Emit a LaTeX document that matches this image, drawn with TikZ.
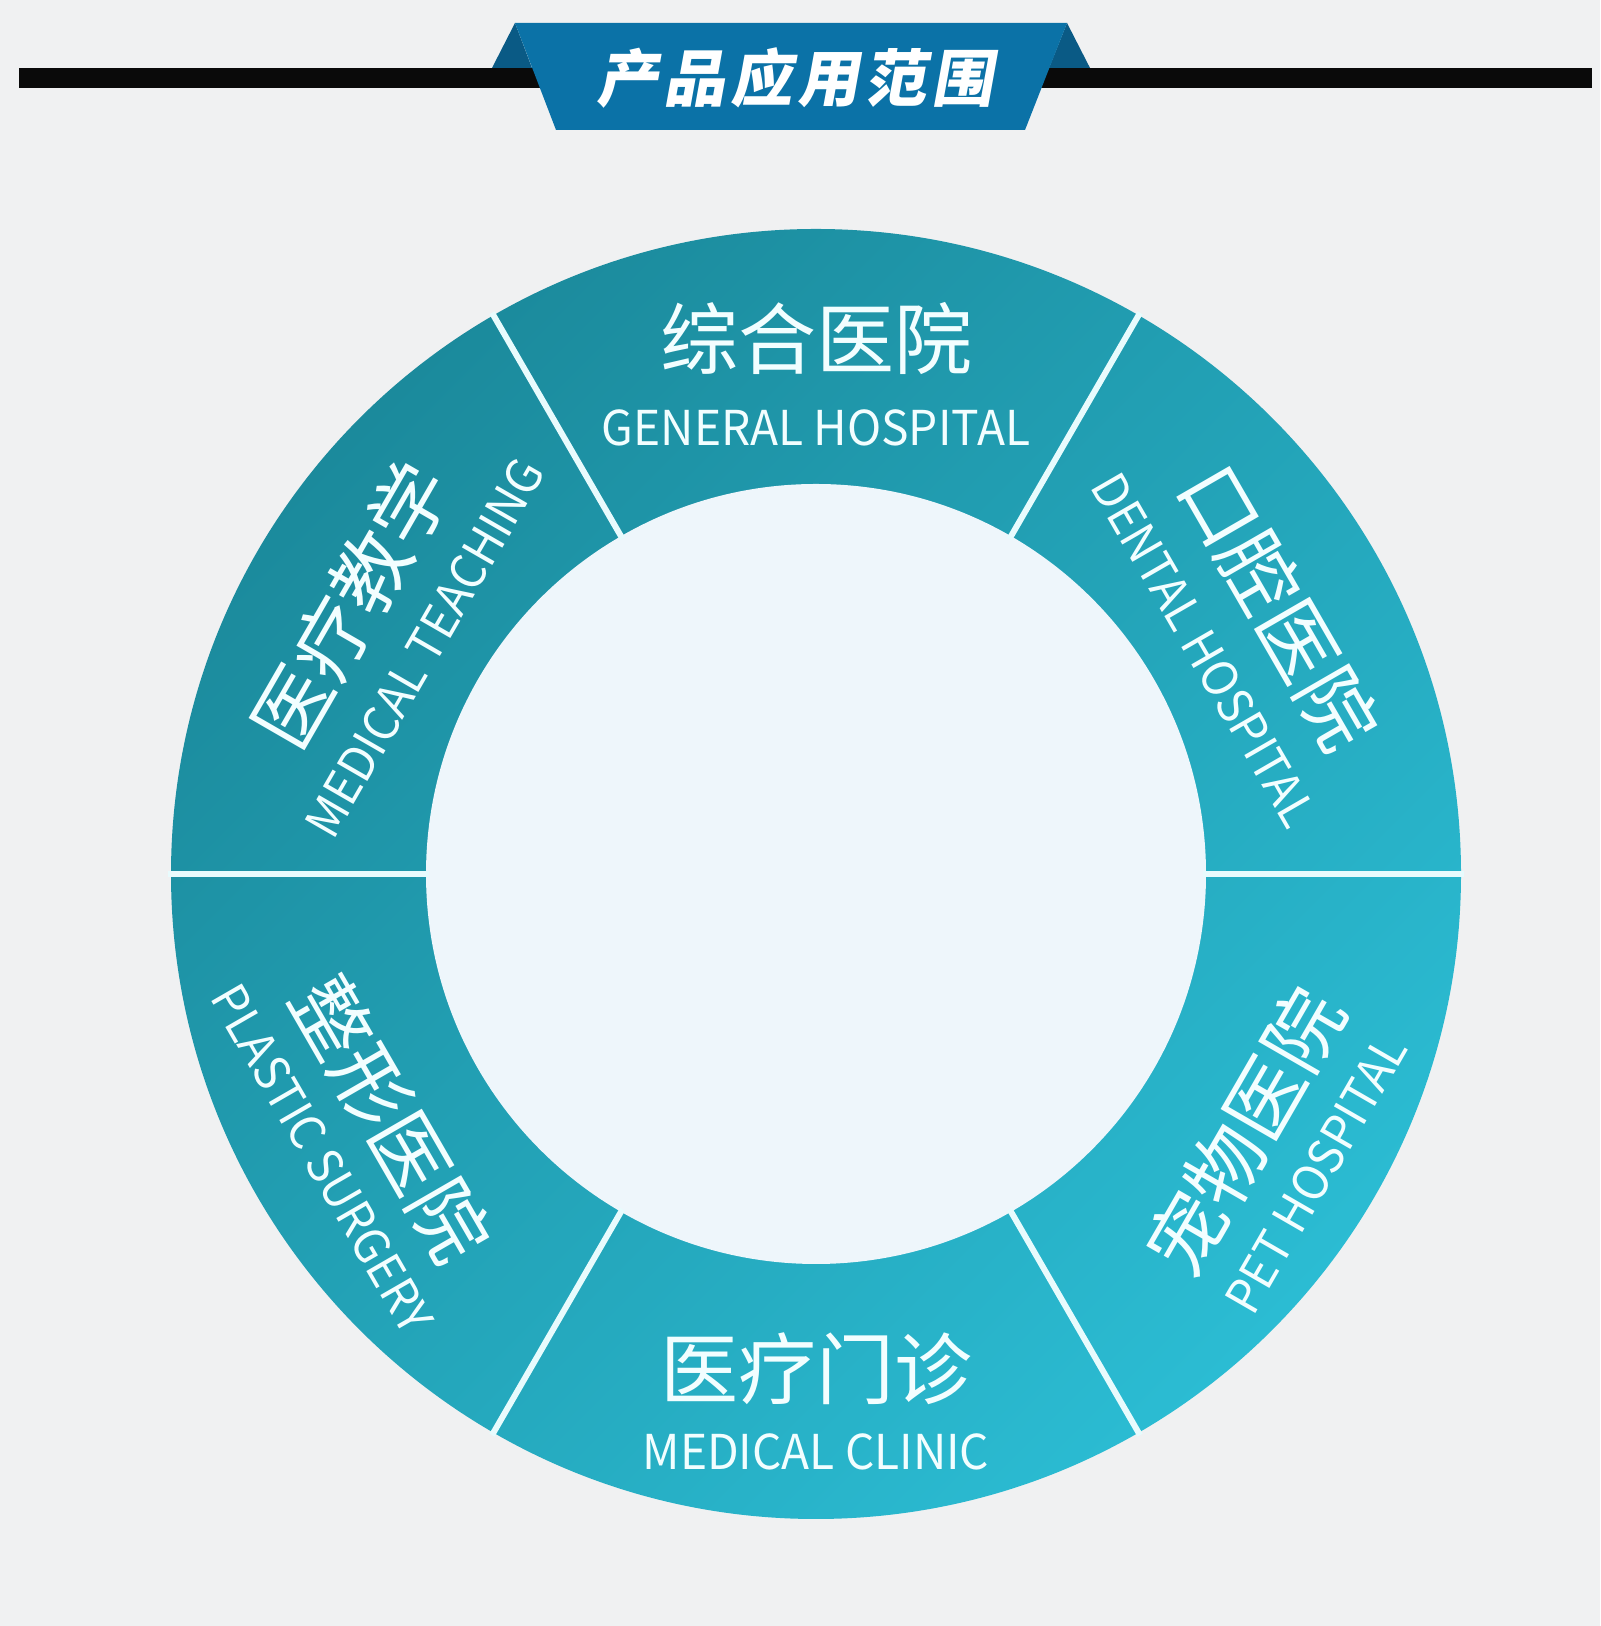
\documentclass[tikz,border=0pt]{standalone}
\usepackage{fontspec}
\usetikzlibrary{calc}
\newfontfamily\cjk{Noto Sans CJK SC}
\newfontfamily\enfont{Noto Sans CJK SC}[FakeStretch=0.96]
\newfontfamily\titlefont{Noto Sans CJK SC}[FakeSlant=0.18, LetterSpace=8]
\definecolor{bgc}{HTML}{F0F1F2}
\definecolor{ringA}{HTML}{1B8A9C}
\definecolor{ringB}{HTML}{2BBCD3}
\definecolor{innerc}{HTML}{EEF6FB}
\definecolor{divc}{HTML}{E8FBFD}
\definecolor{txtc}{HTML}{F2FEFF}
\definecolor{barc}{HTML}{0A0A0A}
\definecolor{bannerc}{HTML}{0B72A7}
\definecolor{foldc}{HTML}{0A5A85}
\begin{document}
\begin{tikzpicture}[x=0.5pt,y=0.5pt,
  cn/.style={font=\cjk\fontsize{39}{41}\selectfont, text=txtc, inner sep=0pt},
  en/.style={font=\enfont\fontsize{24}{26}\selectfont, text=txtc, inner sep=0pt},
  divider/.style={draw=divc, line width=3pt},
  titletext/.style={font=\titlefont\bfseries\fontsize{31}{33}\selectfont, text=white, inner sep=0pt}]
\useasboundingbox (0,0) rectangle (1600,1626);
\fill[bgc] (0,0) rectangle (1600,1626);
% header
\fill[barc] (19,1538) rectangle (1592,1558);
\fill[foldc] (515,1603) -- (492,1558) -- (532,1558) -- cycle;
\fill[foldc] (1067,1603) -- (1090,1558) -- (1049,1558) -- cycle;
\fill[bannerc] (515,1603) -- (1067,1603) -- (1025,1496) -- (556,1496) -- cycle;
\node[titletext] (title) at (795,1548) {产品应用范围};
% ring
\coordinate (C) at (816,752);
\shade[top color=ringA, bottom color=ringB, shading angle=45] (C) circle [radius=645];
\fill[innerc] (C) circle [radius=390];
\foreach \a in {0,60,...,300}
  \draw[divider] ($(C)+(\a:387)$) -- ($(C)+(\a:648)$);
% upper segments
\node[cn, rotate=0]   (gh-cn) at ($(C)+(90:535)$)  {综合医院};
\node[en, rotate=0]   (gh-en) at ($(C)+(90:446)$)  {GENERAL HOSPITAL};
\node[cn, rotate=-60] (dh-cn) at ($(C)+(30:535)$)  {口腔医院};
\node[en, rotate=-60] (dh-en) at ($(C)+(30:448)$)  {DENTAL HOSPITAL};
\node[cn, rotate=60]  (mt-cn) at ($(C)+(150:537)$) {医疗教学};
\node[en, rotate=60]  (mt-en) at ($(C)+(150:452)$) {MEDICAL TEACHING};
% lower segments
\node[cn, rotate=0]   (mc-cn) at ($(C)+(270:495)$) {医疗门诊};
\node[en, rotate=0]   (mc-en) at ($(C)+(270:578)$) {MEDICAL CLINIC};
\node[cn, rotate=-60] (ps-cn) at ($(C)+(210:490)$) {整形医院};
\node[en, rotate=-60] (ps-en) at ($(C)+(210:570)$) {PLASTIC SURGERY};
\node[cn, rotate=60]  (ph-cn) at ($(C)+(329:500)$) {宠物医院};
\node[en, rotate=60]  (ph-en) at ($(C)+(329:583)$) {PET HOSPITAL};
\end{tikzpicture}
\end{document}
